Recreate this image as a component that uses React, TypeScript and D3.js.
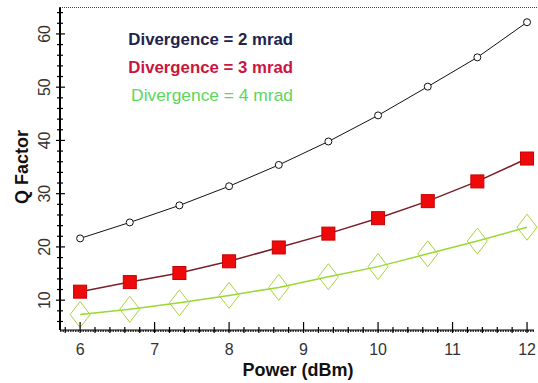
import React from "react";
import * as d3 from "d3";

const powers = [6, 6.667, 7.333, 8, 8.667, 9.333, 10, 10.667, 11.333, 12];
const div2 = [21.6, 24.6, 27.8, 31.4, 35.4, 39.8, 44.7, 50.1, 55.6, 62.2];
const div3 = [11.6, 13.4, 15.1, 17.3, 19.9, 22.5, 25.4, 28.6, 32.3, 36.6];
const div4 = [7.3, 8.3, 9.5, 10.9, 12.4, 14.4, 16.3, 18.7, 21.1, 23.7];
const xTicks = [6, 7, 8, 9, 10, 11, 12];
const yTicks = [10, 20, 30, 40, 50, 60];
const legendLabels = ["Divergence = 2 mrad", "Divergence = 3 mrad", "Divergence = 4 mrad"];

const W = 538;
const H = 383;

export default function App() {
  const x = d3.scaleLinear().domain([5.73, 12.08]).range([60, 533]);
  const y = d3.scaleLinear().domain([4.4, 65]).range([330, 7.3]);
  const line = (vals: number[]) =>
    d3.line<number>().x((_, i) => x(powers[i])).y((v) => y(v))(vals) || "";

  const xMinor = d3.range(5.8, 12.09, 0.2).filter((v) => Math.abs(v - Math.round(v)) > 0.01);
  const yMinor = d3.range(6, 65, 2).filter((v) => v % 10 !== 0);
  const font = "'Liberation Sans', Arial, sans-serif";

  return (
    <div style={{ position: "fixed", left: 0, top: 0, width: W, height: H, background: "#fff" }}>
      <svg width={W} height={H} style={{ display: "block" }} fontFamily={font}>
        <rect x={0} y={0} width={W} height={H} fill="#fff" />
        {/* top dotted border */}
        <line x1={60} x2={537} y1={7.5} y2={7.5} stroke="#444" strokeWidth={1} strokeDasharray="1,1" />

        {/* series lines */}
        <path d={line(div4)} fill="none" stroke="#9ad832" strokeWidth={1.5} />
        <path d={line(div3)} fill="none" stroke="#7a1f2a" strokeWidth={1.5} />
        <path d={line(div2)} fill="none" stroke="#111" strokeWidth={1} />

        {/* markers */}
        {div4.map((v, i) => {
          const cx = x(powers[i]);
          const cy = y(v);
          return (
            <path
              key={"g" + i}
              d={`M${cx},${cy - 13}L${cx + 10},${cy}L${cx},${cy + 13}L${cx - 10},${cy}Z`}
              fill="none"
              stroke="#a8d440"
              strokeWidth={1}
            />
          );
        })}
        {div3.map((v, i) => (
          <rect
            key={"r" + i}
            x={x(powers[i]) - 6.5}
            y={y(v) - 6.5}
            width={13}
            height={13}
            fill="#ee0a0a"
            stroke="#c80000"
            strokeWidth={1}
          />
        ))}
        {div2.map((v, i) => (
          <circle key={"b" + i} cx={x(powers[i])} cy={y(v)} r={3.5} fill="#fff" stroke="#111" strokeWidth={1} />
        ))}

        {/* y axis */}
        <line x1={60} x2={60} y1={7.3} y2={330} stroke="#000" strokeWidth={2} />
        {yMinor.map((v) => (
          <line key={"ym" + v} x1={57} x2={63} y1={y(v)} y2={y(v)} stroke="#000" strokeWidth={1.2} />
        ))}
        {yTicks.map((v) => (
          <g key={"yt" + v}>
            <line x1={56} x2={65} y1={y(v)} y2={y(v)} stroke="#000" strokeWidth={1.2} />
            <text
              transform={`translate(50,${y(v)}) rotate(-90)`}
              textAnchor="middle"
              fontSize={16}
              fill="#333"
            >
              {v}
            </text>
          </g>
        ))}

        {/* x axis */}
        <line x1={60} x2={534} y1={330} y2={330} stroke="#000" strokeWidth={1} />
        <line x1={60} x2={534} y1={331} y2={331} stroke="#000" strokeWidth={1.5} strokeDasharray="1.5,1" />
        {xMinor.map((v) => (
          <line key={"xm" + v.toFixed(1)} x1={x(v)} x2={x(v)} y1={327} y2={333} stroke="#000" strokeWidth={1.2} />
        ))}
        {xTicks.map((v) => (
          <g key={"xt" + v}>
            <line x1={x(v)} x2={x(v)} y1={322} y2={333} stroke="#000" strokeWidth={1.2} />
            <text x={x(v)} y={355} textAnchor="middle" fontSize={16} fill="#333">
              {v}
            </text>
          </g>
        ))}

        {/* axis titles */}
        <text x={298} y={376} textAnchor="middle" fontSize={18} fontWeight="bold" fill="#111">
          Power (dBm)
        </text>
        <text
          transform={`translate(28,167) rotate(-90)`}
          textAnchor="middle"
          fontSize={18}
          fontWeight="bold"
          fill="#111"
        >
          Q Factor
        </text>

        {/* legend */}
        <text x={293} y={45} textAnchor="end" fontSize={16.8} fontWeight="bold" fill="#22224e">
          {legendLabels[0]}
        </text>
        <text x={293} y={73} textAnchor="end" fontSize={16.8} fontWeight="bold" fill="#cc1440">
          {legendLabels[1]}
        </text>
        <text x={293} y={101} textAnchor="end" fontSize={17.4} fill="#5cd65c">
          {legendLabels[2]}
        </text>
      </svg>
    </div>
  );
}
